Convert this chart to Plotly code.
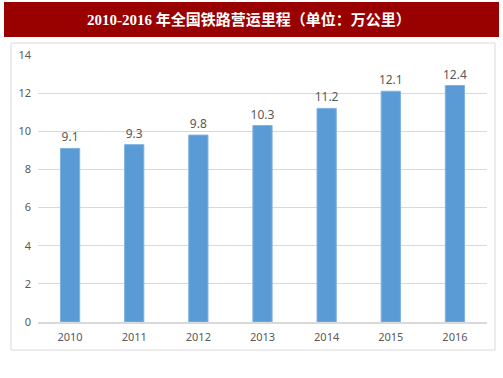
import plotly.graph_objects as go

years = ["2010", "2011", "2012", "2013", "2014", "2015", "2016"]
mileage = [9.1, 9.3, 9.8, 10.3, 11.2, 12.1, 12.4]
y_ticks = [0, 2, 4, 6, 8, 10, 12, 14]
title_text = "2010-2016 年全国铁路营运里程（单位：万公里）"

W, H = 503, 378
L, R, T, B = 38, 16, 55, 56
pw, ph = W - L - R, H - T - B

def px(x):
    return (x - L) / pw

def py(y):
    return (H - B - y) / ph

fig = go.Figure()
fig.add_trace(go.Bar(
    x=years, y=mileage,
    marker=dict(color="#5B9BD5", line=dict(color="#7FB2E0", width=1)),
    text=[f"{v:.1f}" for v in mileage],
    textposition="outside",
    constraintext="none",
    textfont=dict(family="Noto Sans, sans-serif", size=12, color="#595959"),
    cliponaxis=False,
    width=0.3,
))

fig.update_layout(
    width=W, height=H,
    margin=dict(l=L, r=R, t=T, b=B),
    paper_bgcolor="white", plot_bgcolor="white",
    showlegend=False,
    xaxis=dict(type="category", showgrid=False, showline=True, linecolor="#D9D9D9", linewidth=1.5,
               tickfont=dict(family="Noto Sans, sans-serif", size=11, color="#595959"),
               ticks="", ticklabelstandoff=4),
    yaxis=dict(range=[0, 14], tickvals=y_ticks, showgrid=True, gridcolor="#D9D9D9", gridwidth=1,
               zeroline=False, showline=False,
               tickfont=dict(family="Noto Sans, sans-serif", size=11, color="#595959"),
               ticks="", ticklabelstandoff=6),
    shapes=[
        dict(type="rect", xref="paper", yref="paper", x0=px(4), x1=px(499), y0=py(37), y1=py(2),
             fillcolor="#990000", line=dict(width=0), layer="below"),
        dict(type="rect", xref="paper", yref="paper", x0=px(11), x1=px(495), y0=py(350), y1=py(43),
             fillcolor="rgba(0,0,0,0)", line=dict(color="#D9D9D9", width=1), layer="below"),
    ],
    annotations=[
        dict(text=f"<b>{title_text}</b>", xref="paper", yref="paper", x=px(249), y=py(19.5),
             xanchor="center", yanchor="middle", showarrow=False,
             font=dict(family="Liberation Serif, Noto Sans CJK SC, serif", size=15, color="white")),
    ],
)

fig.write_html("out.html", config={"displayModeBar": False},
               post_script="document.body.style.margin='0';document.body.style.overflow='hidden';")
